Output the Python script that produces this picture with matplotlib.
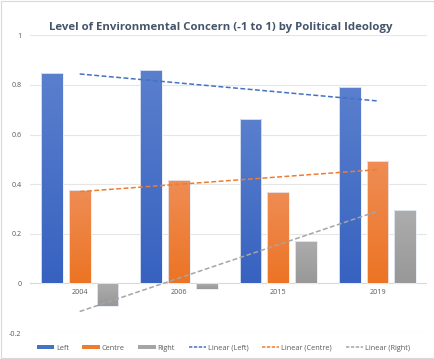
import numpy as np
import matplotlib.pyplot as plt
from matplotlib.colors import LinearSegmentedColormap
from matplotlib.lines import Line2D
from matplotlib.patches import Patch

years = ['2004', '2006', '2015', '2019']
left = [0.847, 0.858, 0.661, 0.792]
centre = [0.378, 0.417, 0.370, 0.492]
right = [-0.090, -0.021, 0.173, 0.294]

series = [
    ('Left', left, '#5A7FCD', '#3762C0'),
    ('Centre', centre, '#EF8D55', '#EC7424'),
    ('Right', right, '#ADADAD', '#989898'),
]
line_cols = ['#4472C4', '#ED7D31', '#A5A5A5']

plt.rcParams['font.family'] = ['Open Sans', 'DejaVu Sans']

fig = plt.figure(figsize=(4.35, 3.59), dpi=100)
ax = fig.add_axes([0.069, 0.072, 0.913, 0.830])

x = np.arange(len(years))
width = 0.22
offsets = [-0.28, 0.0, 0.28]

for (name, vals, top_c, bot_c), off in zip(series, offsets):
    bars = ax.bar(x + off, vals, width, color='none', edgecolor='#E8EDF7',
                  linewidth=0.6, zorder=3)
    cmap = LinearSegmentedColormap.from_list(name, [bot_c, top_c])
    grad = np.linspace(0, 1, 64).reshape(-1, 1)
    for b in bars:
        bx, by = b.get_x(), b.get_y()
        bw, bh = b.get_width(), b.get_height()
        y0, y1 = min(by, by + bh), max(by, by + bh)
        im = ax.imshow(grad, extent=[bx, bx + bw, y0, y1], origin='lower',
                       aspect='auto', cmap=cmap, zorder=2)
        im.set_clip_path(b)

# linear trendlines across the categories
dash = (0, (3.2, 1.6))
for (name, vals, _, _), c in zip(series, line_cols):
    k, m = np.polyfit(x, vals, 1)
    ax.plot(x, k * x + m, color=c, linestyle=dash, linewidth=1.1, zorder=4)

ax.set_xlim(-0.5, 3.5)
ax.set_ylim(-0.2, 1.0)
ax.set_yticks([-0.2, 0, 0.2, 0.4, 0.6, 0.8, 1])
ax.set_yticklabels(['-0.2', '0', '0.2', '0.4', '0.6', '0.8', '1'])
ax.grid(axis='y', color='#E6E6E6', linewidth=0.8, zorder=0)
ax.axhline(0, color='#D9D9D9', linewidth=0.8, zorder=1)
ax.set_axisbelow(True)
for s in ax.spines.values():
    s.set_visible(False)
ax.tick_params(axis='y', length=0, labelsize=5.2, labelcolor='#595959', pad=6)
ax.set_xticks([])
for xi, yr in zip(x, years):
    ax.text(xi, -0.022, yr, ha='center', va='top', fontsize=5.2, color='#595959')

fig.suptitle('Level of Environmental Concern (-1 to 1) by Political Ideology',
             x=0.507, y=0.94, fontsize=8.2, fontweight='bold', color='#44546A')

handles = [Patch(facecolor=line_cols[0]), Patch(facecolor=line_cols[1]),
           Patch(facecolor=line_cols[2])]
handles += [Line2D([], [], color=c, linestyle=(0, (2.2, 1.0)), linewidth=1.1)
            for c in line_cols]
labels = ['Left', 'Centre', 'Right', 'Linear (Left)', 'Linear (Centre)', 'Linear (Right)']
fig.legend(handles, labels, loc='center', bbox_to_anchor=(0.513, 0.030), ncol=6,
           frameon=False, fontsize=5.2, handlelength=2.4, handleheight=0.45,
           columnspacing=1.9, handletextpad=0.25, labelcolor='#595959')

# thin frame around the whole chart
fig.patches.append(plt.Rectangle((0.002, 0.002), 0.996, 0.996, transform=fig.transFigure,
                                 fill=False, edgecolor='#D9D9D9', linewidth=0.8))

fig.savefig('out.png', dpi=100)
